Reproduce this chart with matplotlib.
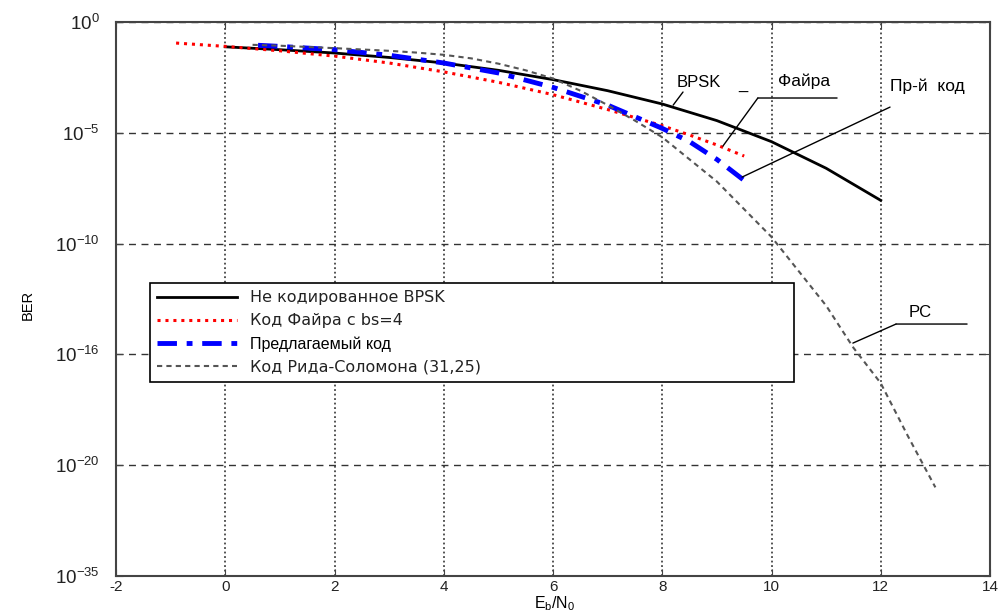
import numpy as np
import matplotlib
matplotlib.use("Agg")
import matplotlib.pyplot as plt
from matplotlib.ticker import FixedLocator, FixedFormatter

plt.rcParams["font.family"] = ["Liberation Sans", "DejaVu Sans"]
plt.rcParams["mathtext.fontset"] = "custom"
plt.rcParams["mathtext.rm"] = "Liberation Sans"
plt.rcParams["mathtext.it"] = "Liberation Sans"
plt.rcParams["axes.unicode_minus"] = False

# Values (BER as log10)
bpsk_x = [0, 1, 2, 3, 4, 5, 6, 7, 8, 9, 10, 11, 12]
bpsk_log = [-1.12, -1.25, -1.40, -1.60, -1.85, -2.18, -2.6, -3.1, -3.7, -4.45, -5.4, -6.6, -8.05]

fire_x = [-0.9, 0, 1, 2, 3, 4, 5, 6, 7, 8, 8.5, 9, 9.5]
fire_log = [-0.95, -1.1, -1.3, -1.54, -1.85, -2.25, -2.72, -3.28, -3.95, -4.68, -5.1, -5.55, -6.05]

prop_x = [0.6, 1, 2, 3, 4, 5, 6, 7, 8, 8.5, 9, 9.5]
prop_log = [-1.05, -1.1, -1.25, -1.5, -1.85, -2.3, -2.95, -3.75, -4.8, -5.4, -6.2, -7.15]

rs_x = [0.5, 1, 2, 3, 3.5, 4, 4.5, 5, 5.5, 6, 6.5, 7, 7.5, 8, 9, 10, 11, 11.5, 12, 12.5, 13]
rs_log = [-1.03, -1.07, -1.18, -1.3, -1.38, -1.48, -1.64, -1.88, -2.18, -2.55, -3.1,
          -3.75, -4.45, -5.2, -7.2, -9.7, -12.8, -14.7, -16.3, -18.7, -21.0]

x_ticks = [-2, 0, 2, 4, 6, 8, 10, 12, 14]
y_ticks = [1e0, 1e-5, 1e-10, 1e-15, 1e-20, 1e-25]
y_tick_labels = ["$10^{0}$", "$10^{-5}$", "$10^{-10}$", "$10^{-16}$", "$10^{-20}$", "$10^{-35}$"]

labels = ["Не кодированное BPSK", "Код Файра с bs=4", "Предлагаемый код",
          "Код Рида-Соломона (31,25)"]

fig = plt.figure(figsize=(10.06, 6.12), dpi=100)
ax = fig.add_axes([116 / 1006, 1 - 576 / 612, 874 / 1006, 554 / 612])

l1, = ax.plot(bpsk_x, 10.0 ** np.array(bpsk_log), color="black", lw=2, label=labels[0])
l2, = ax.plot(fire_x, 10.0 ** np.array(fire_log), color="red", lw=2.2,
              linestyle=(0, (1, 1.6)), label=labels[1])
l3, = ax.plot(prop_x, 10.0 ** np.array(prop_log), color="blue", lw=3.5,
              linestyle=(0, (4, 2, 1.2, 2)), label=labels[2])
l4, = ax.plot(rs_x, 10.0 ** np.array(rs_log), color="#555555", lw=1.5,
              linestyle=(0, (2.5, 2)), label=labels[3])

ax.set_yscale("log")
ax.set_xlim(-2, 14)
ax.set_ylim(1e-25, 1e0)
ax.set_xticks(x_ticks)
ax.yaxis.set_major_locator(FixedLocator(y_ticks))
ax.yaxis.set_major_formatter(FixedFormatter(y_tick_labels))
ax.yaxis.set_minor_locator(FixedLocator([]))
ax.tick_params(direction="in", top=True, right=True, length=5, color="#444444")
ax.tick_params(axis="y", labelsize=13.5, pad=12, labelcolor="#222222")
ax.tick_params(axis="x", labelsize=11, pad=3, labelcolor="#222222")

ax.xaxis.grid(True, linestyle=(0, (1, 1.5)), color="#444444", lw=1.3)
ax.yaxis.grid(True, linestyle=(0, (5, 4)), color="#333333", lw=1)
for s in ax.spines.values():
    s.set_color("#444444")
    s.set_linewidth(1.5)

leg = ax.legend(handles=[l1, l2, l3, l4], loc="lower left",
                bbox_to_anchor=(0.039, 0.35, 0.737, 0.17), mode="expand",
                borderaxespad=0, borderpad=0.45, fancybox=False, edgecolor="black",
                framealpha=1, handlelength=5.0, handletextpad=0.8, labelspacing=0.5,
                prop={"family": ["DejaVu Sans"], "size": 11.5})
leg.get_frame().set_linewidth(1.2)
for i, t in enumerate(leg.get_texts()):
    t.set_color("#222222")
    if i == 2:
        t.set_fontsize(11.5)
        t.set_family(["Liberation Sans", "DejaVu Sans"])
        t.set_color("black")

# Annotations on the curves
def leader(p0, p1):
    ax.annotate("", xy=(p1[0], 10.0 ** p1[1]), xytext=(p0[0], 10.0 ** p0[1]),
                arrowprops=dict(arrowstyle="-", color="black", lw=1,
                                shrinkA=0, shrinkB=0))

ax.text(8.27, 10.0 ** -2.71, "BPSK", fontsize=12, va="center")
leader((8.38, -3.16), (8.20, -3.75))
ax.text(9.4, 10.0 ** -2.85, "_", fontsize=12, va="center")

ax.text(10.12, 10.0 ** -2.66, "Файра", fontsize=12.5, va="center")
leader((9.75, -3.43), (11.2, -3.43))
leader((9.75, -3.43), (9.11, -5.6))

ax.text(12.17, 10.0 ** -2.89, "Пр-й  код", fontsize=12.5, va="center")
leader((12.17, -3.84), (9.46, -7.0))

ax.text(12.51, 10.0 ** -13.09, "PC", fontsize=12, va="center")
leader((12.28, -13.63), (13.58, -13.63))
leader((12.28, -13.63), (11.49, -14.49))

fig.text(28 / 1006, 1 - 305 / 612, "BER", rotation=90, ha="center", va="center",
         fontsize=10.5, family=["Liberation Sans Narrow", "Liberation Sans"])
fig.text(555 / 1006, 1 - 604 / 612, "E$_b$/N$_0$", ha="center", va="center", fontsize=11.5)

fig.savefig("out.png", dpi=100)
